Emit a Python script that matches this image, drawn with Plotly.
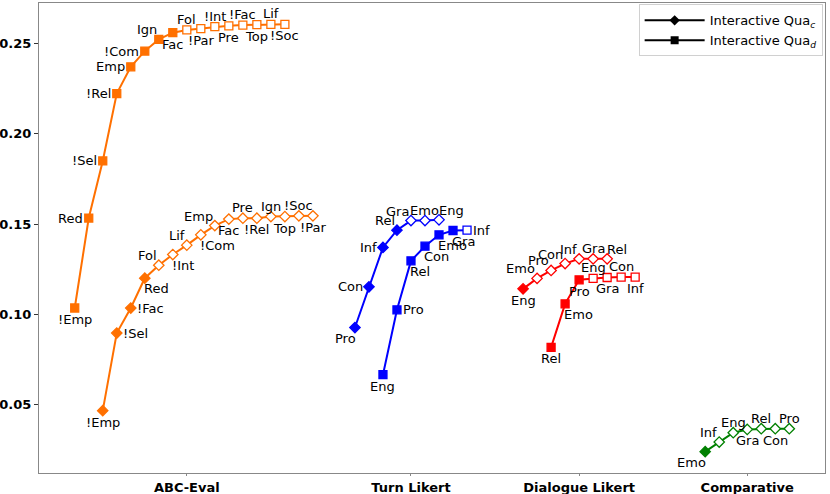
import plotly.graph_objects as go

# ---- data ----
GROUPS = ["ABC-Eval", "Turn Likert", "Dialogue Likert", "Comparative"]

abc_c_names = ["!Emp", "!Sel", "!Fac", "Red", "Fol", "!Int", "Lif", "!Com",
               "Emp", "Fac", "Pre", "!Rel", "Ign", "Top", "!Soc", "!Par"]
abc_c_vals = [0.0467, 0.0896, 0.1035, 0.1200, 0.1272, 0.1331, 0.1383, 0.1440,
              0.1491, 0.1527, 0.1532, 0.1532, 0.1541, 0.1541, 0.1545, 0.1545]
abc_c_filled = 4

abc_d_names = ["!Emp", "Red", "!Sel", "!Rel", "Emp", "!Com", "Ign", "Fac",
               "Fol", "!Par", "!Int", "Pre", "!Fac", "Top", "Lif", "!Soc"]
abc_d_vals = [0.1035, 0.1533, 0.1849, 0.2222, 0.2370, 0.2457, 0.2522, 0.2559,
              0.2574, 0.2581, 0.2592, 0.2597, 0.2601, 0.2603, 0.2605, 0.2605]
abc_d_filled = 8

turn_c_names = ["Pro", "Con", "Inf", "Rel", "Gra", "Emo", "Eng"]
turn_c_vals = [0.0927, 0.1152, 0.1370, 0.1466, 0.1519, 0.1519, 0.1523]
turn_c_filled = 4

turn_d_names = ["Eng", "Pro", "Rel", "Con", "Emo", "Gra", "Inf"]
turn_d_vals = [0.0666, 0.1025, 0.1296, 0.1377, 0.1440, 0.1464, 0.1466]
turn_d_filled = 6

dial_c_names = ["Eng", "Emo", "Pro", "Con", "Inf", "Gra", "Rel"]
dial_c_vals = [0.1141, 0.1199, 0.1243, 0.1281, 0.1307, 0.1307, 0.1307]
dial_c_filled = 1

dial_d_names = ["Rel", "Emo", "Pro", "Eng", "Gra", "Con", "Inf"]
dial_d_vals = [0.0817, 0.1058, 0.1191, 0.1199, 0.1204, 0.1206, 0.1206]
dial_d_filled = 3

comp_c_names = ["Emo", "Inf", "Eng", "Gra", "Rel", "Con", "Pro"]
comp_c_vals = [0.0240, 0.0293, 0.0345, 0.0363, 0.0367, 0.0367, 0.0367]
comp_c_filled = 1

# ---- layout / style ----
ORANGE = "#ff7000"
FONT = "DejaVu Sans"
GROUP_START = {"ABC-Eval": 0, "Turn Likert": 20, "Dialogue Likert": 32, "Comparative": 45}
D_OFFSET = {"ABC-Eval": 0, "Turn Likert": 2, "Dialogue Likert": 2}
C_OFFSET = {"ABC-Eval": 2, "Turn Likert": 0, "Dialogue Likert": 0, "Comparative": 0}
TICK_POS = [8, 24, 36, 48]

# label placement relative to its marker: (xanchor, yanchor, xshift, yshift)
PLACE = {
    "L": ("right", "middle", -5, 0),
    "R": ("left", "middle", 5, 0),
    "T": ("center", "bottom", 0, 2),
    "B": ("center", "top", 0, -3),
    "TL": ("right", "bottom", -1, 1),
    "TR": ("left", "bottom", -1, 1),
    "BR": ("left", "top", -2, -2),
    "BL": ("right", "top", 2, -2),
}

series = [
    # group, kind, names, vals, n_filled, color, label placement
    ("ABC-Eval", "d", abc_d_names, abc_d_vals, abc_d_filled, ORANGE,
     ["B", "L", "L", "L", "L", "L", "TL", "B"] + ["T", "B"] * 4),
    ("ABC-Eval", "c", abc_c_names, abc_c_vals, abc_c_filled, ORANGE,
     ["B", "R", "R", "BR", "TL", "BR", "TL", "BR", "TL", "B"] + ["T", "B"] * 3),
    ("Turn Likert", "c", turn_c_names, turn_c_vals, turn_c_filled, "blue",
     ["BL", "L", "L", "TL", "TL", "T", "TR"]),
    ("Turn Likert", "d", turn_d_names, turn_d_vals, turn_d_filled, "blue",
     ["B", "R", "BR", "BR", "BR", "BR", "R"]),
    ("Dialogue Likert", "c", dial_c_names, dial_c_vals, dial_c_filled, "red",
     ["B", "TL", "TL", "TL", "TL", "T", "TR"]),
    ("Dialogue Likert", "d", dial_d_names, dial_d_vals, dial_d_filled, "red",
     ["B", "BR", "B", "T", "B", "T", "B"]),
    ("Comparative", "c", comp_c_names, comp_c_vals, comp_c_filled, "green",
     ["BL", "TL", "T", "B", "T", "B", "T"]),
]

fig = go.Figure()
all_x, all_y = [], []
for group, kind, names, vals, n_filled, color, places in series:
    off = D_OFFSET[group] if kind == "d" else C_OFFSET[group]
    xs = [GROUP_START[group] + off + i for i in range(len(vals))]
    all_x += xs
    all_y += vals
    sym = "square" if kind == "d" else "diamond"
    fills = [color if i < n_filled else "white" for i in range(len(vals))]
    fig.add_trace(go.Scatter(
        x=xs, y=vals, mode="lines+markers",
        line=dict(color=color, width=2),
        marker=dict(symbol=sym, size=8, color=fills,
                    line=dict(color=color, width=1.3)),
        showlegend=False, hoverinfo="skip",
    ))
    for x, y, name, p in zip(xs, vals, names, places):
        xa, ya, dx, dy = PLACE[p]
        fig.add_annotation(x=x, y=y, text=name, showarrow=False,
                           xanchor=xa, yanchor=ya, xshift=dx, yshift=dy,
                           font=dict(family=FONT, size=13, color="black"),
                           borderpad=0)

# legend entries in black
for sym, label in [("diamond", "Interactive Qua<sub><i>c</i></sub>"),
                   ("square", "Interactive Qua<sub><i>d</i></sub>")]:
    fig.add_trace(go.Scatter(
        x=[None], y=[None], mode="lines+markers", name=label,
        line=dict(color="black", width=2),
        marker=dict(symbol=sym, size=8, color="black"),
    ))

# matplotlib-like 5% margins
xpad = (max(all_x) - min(all_x)) * 0.05
ypad = (max(all_y) - min(all_y)) * 0.05

fig.update_layout(
    width=830, height=494,
    margin=dict(l=39, r=5, t=3, b=21),
    paper_bgcolor="white", plot_bgcolor="white",
    font=dict(family=FONT, color="black"),
    legend=dict(x=0.997, y=0.997, xanchor="right", yanchor="top",
                bordercolor="#d0d0d0", borderwidth=1, bgcolor="white",
                font=dict(family=FONT, size=13), itemwidth=60,
                tracegroupgap=0),
    xaxis=dict(range=[min(all_x) - xpad, max(all_x) + xpad], automargin=False,
               tickvals=TICK_POS, ticktext=[f"<b>{g}</b>" for g in GROUPS],
               tickfont=dict(family=FONT, size=13),
               ticks="outside", ticklen=2, tickcolor="#888",
               showgrid=False, zeroline=False,
               showline=True, linecolor="#888", linewidth=1, mirror=True),
    yaxis=dict(range=[min(all_y) - ypad, max(all_y) + ypad], automargin=False,
               tickvals=[0.05, 0.10, 0.15, 0.20, 0.25],
               ticktext=[f"<b>{v:.2f}</b>" for v in [0.05, 0.10, 0.15, 0.20, 0.25]],
               tickfont=dict(family=FONT, size=13),
               ticks="outside", ticklen=4, tickcolor="#333",
               showgrid=False, zeroline=False,
               showline=True, linecolor="#888", linewidth=1, mirror=True),
)

# drop the browser's default 8px body margin so the figure sits at (0, 0)
fig.write_html("out.html", config={"displayModeBar": False},
               post_script="document.body.style.margin='0';")
